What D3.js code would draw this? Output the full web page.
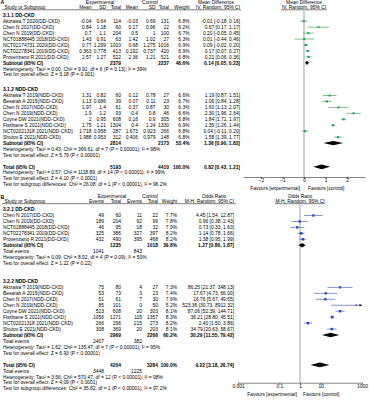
<!DOCTYPE html>
<html><head><meta charset="utf-8">
<script src="https://cdn.jsdelivr.net/npm/d3@7"></script>
<style>
html,body{margin:0;padding:0;background:#fff;}
svg{display:block;font-family:"Liberation Sans",Arial,sans-serif;}
</style></head>
<body>
<svg id="chart" width="369" height="400"></svg>
<script>
// ---------- DATA: panel A (continuous, mean difference) ----------
const a1Name = "3.1.1 DD-CKD";
const a1Studies = ["Akizawa T 2020(DD-CKD)","Chen N 2017(DD-CKD)","Chen N 2019(DD-CKD)","NCT01888445 2018(DD-CKD)","NCT02174731 2020(DD-CKD)","NCT02278341 2019(DD-CKD)","Provenzano R 2021(DD-CKD)"];
// meanE, sdE, nE, meanC, sdC, nC, weight, md, lo, hi
const a1Values = [
  [-0.04,0.64,114,-0.03,0.69,131,6.8,-0.01,-0.18,0.16],
  [0.84,1.18,60,0.17,0.96,22,6.2,0.67,0.17,1.17],
  [0.7,1.1,204,0.5,1,100,6.7,0.20,-0.05,0.45],
  [1.43,0.91,63,1.42,1.02,27,6.3,0.01,-0.44,0.46],
  [0.77,1.299,1003,0.68,1.275,1016,6.9,0.09,-0.02,0.20],
  [0.363,0.778,413,0.192,0.737,420,6.9,0.17,0.07,0.27],
  [2.57,1.27,522,2.36,1.21,521,6.8,0.21,0.06,0.36]
];
const a1Subtotal = [2379,2237,46.6,0.14,0.05,0.23];
const a1Het = "Heterogeneity: Tau² = 0.00; Chi² = 9.91, df = 6 (P = 0.13); I² = 39%";
const a1Test = "Test for overall effect: Z = 3.18 (P = 0.001)";

const a2Name = "3.1.2 NDD-CKD";
const a2Studies = ["Akizawa T 2019(NDD-CKD)","Besarab A 2015(NDD-CKD)","Chen N 2017(NDD-CKD)","Chen N 2019(NDD-CKD)","Coyne DW 2021(NDD-CKD)","Fishbane S 2021(NDD-CKD)","NCT02021318 2021(NDD-CKD)","Shutov E 2021(NDD-CKD)"];
const a2Values = [
  [1.31,0.82,60,0.12,0.78,27,6.6,1.19,0.87,1.51],
  [1.13,0.686,39,0.07,0.11,23,6.7,1.06,0.84,1.28],
  [1.97,1.4,61,0.37,0.87,30,6.3,1.60,1.13,2.07],
  [1.9,1.2,93,-0.4,0.8,46,6.6,2.30,1.96,2.64],
  [2,0.95,608,0.16,0.9,305,6.8,1.84,1.71,1.97],
  [1.75,1.21,1304,0.4,1.24,1330,6.9,1.35,1.26,1.44],
  [1.718,0.958,287,1.673,0.923,266,6.8,0.04,-0.11,0.20],
  [1.988,0.953,312,0.406,0.979,148,6.8,1.58,1.39,1.77]
];
const a2Subtotal = [2814,2173,53.4,1.36,0.90,1.82];
const a2Het = "Heterogeneity: Tau² = 0.43; Chi² = 366.61, df = 7 (P < 0.00001); I² = 98%";
const a2Test = "Test for overall effect: Z = 5.79 (P < 0.00001)";

const aTotal = [5193,4410,100.0,0.82,0.43,1.21];
const aTotalHet = "Heterogeneity: Tau² = 0.57; Chi² = 1118.89, df = 14 (P < 0.00001); I² = 99%";
const aTotalTest = "Test for overall effect: Z = 4.10 (P < 0.0001)";
const aSubgroupTest = "Test for subgroup differences: Chi² = 26.08, df = 1 (P < 0.00001), I² = 96.2%";
const aTicks = [-2,-1,0,1,2];

// ---------- DATA: panel B (dichotomous, odds ratio) ----------
const b1Name = "3.2.1 DD-CKD";
const b1Studies = ["Chen N 2017(DD-CKD)","Chen N 2019(DD-CKD)","NCT01888445 2018(DD-CKD)","NCT02278341 2019(DD-CKD)","Provenzano R 2021(DD-CKD)"];
// eventsE, totalE, eventsC, totalC, weight, or, lo, hi
const b1Values = [
  [49,60,11,22,7.7,4.45,1.54,12.87],
  [189,204,92,99,7.8,0.96,0.38,2.43],
  [46,95,18,32,7.9,0.73,0.33,1.63],
  [325,386,327,397,8.2,1.14,0.78,1.66],
  [432,490,395,468,8.2,1.38,0.95,1.99]
];
const b1Subtotal = [1235,1018,39.8,1.27,0.86,1.87];
const b1Events = [1041,843];
const b1Het = "Heterogeneity: Tau² = 0.09; Chi² = 8.02, df = 4 (P = 0.09); I² = 50%";
const b1Test = "Test for overall effect: Z = 1.22 (P = 0.22)";

const b2Name = "3.2.2 NDD-CKD";
const b2Studies = ["Akizawa T 2019(NDD-CKD)","Besarab A 2015(NDD-CKD)","Chen N 2017(NDD-CKD)","Chen N 2019(NDD-CKD)","Coyne DW 2021(NDD-CKD)","Fishbane S 2021(NDD-CKD)","NCT02021318 2021(NDD-CKD)","Shutov E 2021(NDD-CKD)"];
const b2Values = [
  [75,80,4,27,7.3,86.25,21.37,348.13],
  [53,73,3,23,7.4,17.67,4.73,66.00],
  [51,61,7,30,7.6,16.76,5.67,49.55],
  [85,101,0,50,5.2,523.36,30.73,8912.32],
  [523,608,20,303,8.1,87.06,52.39,144.71],
  [1056,1271,115,1357,8.3,36.21,28.80,45.51],
  [266,296,215,273,8.2,2.40,1.50,3.86],
  [308,369,20,203,8.1,34.79,20.63,58.67]
];
const b2Subtotal = [2969,2266,60.2,30.29,11.55,79.42];
const b2Events = [2407,382];
const b2Het = "Heterogeneity: Tau² = 1.62; Chi² = 135.47, df = 7 (P < 0.00001); I² = 95%";
const b2Test = "Test for overall effect: Z = 6.93 (P < 0.00001)";

const bTotal = [4204,3284,100.0,9.22,3.18,26.74];
const bTotalEvents = [3448,1225];
const bTotalHet = "Heterogeneity: Tau² = 3.56; Chi² = 570.47, df = 12 (P < 0.00001); I² = 98%";
const bTotalTest = "Test for overall effect: Z = 4.09 (P < 0.0001)";
const bSubgroupTest = "Test for subgroup differences: Chi² = 35.82, df = 1 (P < 0.00001), I² = 97.2%";
const bTicks = [0.001,0.1,1,10,1000];

// ---------- DRAWING ----------
const svg = d3.select("#chart");
const FS = 4.9;
const STEP = 5.95;
const greenSq = "#00a651", greenLn = "#3f8f3f";
const blueSq = "#1f3fcf", blueLn = "#3b4f9a";

function txt(x, y, s, opt = {}) {
  return svg.append("text")
    .attr("x", x).attr("y", y).attr("dy", "0.35em")
    .attr("font-size", opt.size || FS)
    .attr("font-weight", opt.bold ? "bold" : null)
    .attr("text-anchor", opt.anchor || "start")
    .attr("fill", "#000")
    .text(s);
}
const pct = v => v.toFixed(1) + "%";
const ci = (e, l, h) => `${e.toFixed(2)} [${l.toFixed(2)}, ${h.toFixed(2)}]`;

function diamond(x, y, e, l, h, half) {
  svg.append("path")
    .attr("d", `M${x(l)},${y} L${x(e)},${y - half} L${x(h)},${y} L${x(e)},${y + half} Z`)
    .attr("fill", "#000");
}
function studyMark(x, y, e, l, h, w, sq, ln) {
  const [d0, d1] = x.domain();
  const lo = Math.max(l, d0), hi = Math.min(h, d1);
  svg.append("line").attr("x1", x(lo)).attr("x2", x(hi)).attr("y1", y).attr("y2", y)
    .attr("stroke", ln).attr("stroke-width", 0.6);
  if (h > d1) {
    const xe = x(d1);
    svg.append("path").attr("d", `M${xe},${y} L${xe - 2.5},${y - 1.2} L${xe - 2.5},${y + 1.2} Z`).attr("fill", "#000");
  }
  const s = w * 0.3;
  svg.append("rect").attr("x", x(e) - s / 2).attr("y", y - s / 2).attr("width", s).attr("height", s).attr("fill", sq);
}

// ===== Panel A =====
const xA = d3.scaleLinear().domain([-2.83, 2.83]).range([243, 365]);
const colA = {mE: 91.5, sE: 106, nE: 121, mC: 138, sC: 155.5, nC: 169, w: 189.5, ci: 240};
svg.append("text").attr("x", 0.5).attr("y", 4.4).attr("font-size", 5.2).attr("font-weight", "bold").text("A");
const h1A = 2.5;
txt(100, h1A, "Experimental", {anchor: "middle"});
txt(150, h1A, "Control", {anchor: "middle"});
txt(216, h1A, "Mean Difference", {anchor: "middle"});
txt(304, h1A, "Mean Difference", {anchor: "middle"});
const hA = 7.4;
txt(4.5, hA, "Study or Subgroup");
txt(colA.mE, hA, "Mean", {anchor: "end"});
txt(colA.sE, hA, "SD", {anchor: "end"});
txt(colA.nE, hA, "Total", {anchor: "end"});
txt(colA.mC, hA, "Mean", {anchor: "end"});
txt(colA.sC, hA, "SD", {anchor: "end"});
txt(colA.nC, hA, "Total", {anchor: "end"});
txt(colA.w, hA, "Weight", {anchor: "end"});
txt(colA.ci, hA, "IV, Random, 95% CI", {anchor: "end"});
txt(304, hA, "IV, Random, 95% CI", {anchor: "middle"});
svg.append("line").attr("x1", 2).attr("x2", 241).attr("y1", 9.8).attr("y2", 9.8).attr("stroke", "#000").attr("stroke-width", 0.5);
svg.append("line").attr("x1", 281).attr("x2", 327).attr("y1", 9.8).attr("y2", 9.8).attr("stroke", "#000").attr("stroke-width", 0.5);

// zero line
svg.append("line").attr("x1", xA(0)).attr("x2", xA(0)).attr("y1", 10.5).attr("y2", 177)
  .attr("stroke", "#8a8a8a").attr("stroke-width", 0.8);

function sectionA(y0, name, studies, vals, sub, het, test) {
  txt(3, y0, name, {bold: true});
  let y = y0 + 6.2;
  studies.forEach((s, i) => {
    const v = vals[i];
    txt(3, y, s);
    txt(colA.mE, y, String(v[0]), {anchor: "end"});
    txt(colA.sE, y, String(v[1]), {anchor: "end"});
    txt(colA.nE, y, String(v[2]), {anchor: "end"});
    txt(colA.mC, y, String(v[3]), {anchor: "end"});
    txt(colA.sC, y, String(v[4]), {anchor: "end"});
    txt(colA.nC, y, String(v[5]), {anchor: "end"});
    txt(colA.w, y, pct(v[6]), {anchor: "end"});
    txt(colA.ci, y, ci(v[7], v[8], v[9]), {anchor: "end"});
    studyMark(xA, y, v[7], v[8], v[9], v[6], greenSq, greenLn);
    y += STEP;
  });
  txt(3, y, "Subtotal (95% CI)", {bold: true});
  txt(colA.nE, y, String(sub[0]), {anchor: "end", bold: true});
  txt(colA.nC, y, String(sub[1]), {anchor: "end", bold: true});
  txt(colA.w, y, pct(sub[2]), {anchor: "end", bold: true});
  txt(colA.ci, y, ci(sub[3], sub[4], sub[5]), {anchor: "end", bold: true});
  diamond(xA, y, sub[3], sub[4], sub[5], 2.2);
  y += STEP; txt(3, y, het);
  y += STEP; txt(3, y, test);
}
sectionA(15, a1Name, a1Studies, a1Values, a1Subtotal, a1Het, a1Test);
sectionA(89.3, a2Name, a2Studies, a2Values, a2Subtotal, a2Het, a2Test);
{
  const y = 166.8;
  txt(3, y, "Total (95% CI)", {bold: true});
  txt(colA.nE, y, String(aTotal[0]), {anchor: "end", bold: true});
  txt(colA.nC, y, String(aTotal[1]), {anchor: "end", bold: true});
  txt(colA.w, y, pct(aTotal[2]), {anchor: "end", bold: true});
  txt(colA.ci, y, ci(aTotal[3], aTotal[4], aTotal[5]), {anchor: "end", bold: true});
  diamond(xA, y, aTotal[3], aTotal[4], aTotal[5], 2.4);
  txt(3, y + STEP, aTotalHet);
  txt(3, y + 2 * STEP, aTotalTest);
  txt(3, y + 3 * STEP, aSubgroupTest);
}
const axA = svg.append("g").attr("transform", "translate(0,177)")
  .call(d3.axisBottom(xA).tickValues(aTicks).tickSize(2).tickSizeOuter(0).tickFormat(d3.format("d")));
axA.selectAll("text").attr("font-size", FS).attr("font-family", "Liberation Sans, Arial, sans-serif").attr("dy", "0.55em").attr("y", 2.5);
axA.selectAll("line,path").attr("stroke", "#333").attr("stroke-width", 0.6);
txt(xA(0) - 4, 188.3, "Favours [experimental]", {anchor: "end"});
txt(xA(0) + 4, 188.3, "Favours [control]");

// ===== Panel B =====
const xB = d3.scaleLog().domain([0.001, 1000]).range([238, 362]);
const colB = {eE: 104, nE: 121, eC: 142, nC: 158, w: 177, ci: 234};
svg.append("text").attr("x", 0.5).attr("y", 198.6).attr("font-size", 5.2).attr("font-weight", "bold").text("B");
const h1B = 196.2;
txt(112, h1B, "Experimental", {anchor: "middle"});
txt(150, h1B, "Control", {anchor: "middle"});
txt(214, h1B, "Odds Ratio", {anchor: "middle"});
txt(300, h1B, "Odds Ratio", {anchor: "middle"});
const hB = 201.4;
txt(4.5, hB, "Study or Subgroup");
txt(colB.eE, hB, "Events", {anchor: "end"});
txt(colB.nE, hB, "Total", {anchor: "end"});
txt(colB.eC, hB, "Events", {anchor: "end"});
txt(colB.nC, hB, "Total", {anchor: "end"});
txt(colB.w, hB, "Weight", {anchor: "end"});
txt(colB.ci, hB, "M-H, Random, 95% CI", {anchor: "end"});
txt(300, hB, "M-H, Random, 95% CI", {anchor: "middle"});
svg.append("line").attr("x1", 2).attr("x2", 236).attr("y1", 203.7).attr("y2", 203.7).attr("stroke", "#000").attr("stroke-width", 0.5);
svg.append("line").attr("x1", 275).attr("x2", 325).attr("y1", 203.7).attr("y2", 203.7).attr("stroke", "#000").attr("stroke-width", 0.5);

svg.append("line").attr("x1", xB(1)).attr("x2", xB(1)).attr("y1", 204.5).attr("y2", 382.7)
  .attr("stroke", "#8a8a8a").attr("stroke-width", 0.8);

function sectionB(y0, name, studies, vals, sub, ev, het, test) {
  txt(3, y0, name, {bold: true});
  let y = y0 + 6.2;
  studies.forEach((s, i) => {
    const v = vals[i];
    txt(3, y, s);
    txt(colB.eE, y, String(v[0]), {anchor: "end"});
    txt(colB.nE, y, String(v[1]), {anchor: "end"});
    txt(colB.eC, y, String(v[2]), {anchor: "end"});
    txt(colB.nC, y, String(v[3]), {anchor: "end"});
    txt(colB.w, y, pct(v[4]), {anchor: "end"});
    txt(colB.ci, y, ci(v[5], v[6], v[7]), {anchor: "end"});
    studyMark(xB, y, v[5], v[6], v[7], v[4], blueSq, blueLn);
    y += STEP;
  });
  txt(3, y, "Subtotal (95% CI)", {bold: true});
  txt(colB.nE, y, String(sub[0]), {anchor: "end", bold: true});
  txt(colB.nC, y, String(sub[1]), {anchor: "end", bold: true});
  txt(colB.w, y, pct(sub[2]), {anchor: "end", bold: true});
  txt(colB.ci, y, ci(sub[3], sub[4], sub[5]), {anchor: "end", bold: true});
  diamond(xB, y, sub[3], sub[4], sub[5], 2.2);
  y += STEP; txt(3, y, "Total events");
  txt(colB.eE, y, String(ev[0]), {anchor: "end"});
  txt(colB.eC, y, String(ev[1]), {anchor: "end"});
  y += STEP; txt(3, y, het);
  y += STEP; txt(3, y, test);
}
sectionB(209.3, b1Name, b1Studies, b1Values, b1Subtotal, b1Events, b1Het, b1Test);
sectionB(281.2, b2Name, b2Studies, b2Values, b2Subtotal, b2Events, b2Het, b2Test);
{
  const y = 364.9;
  txt(3, y, "Total (95% CI)", {bold: true});
  txt(colB.nE, y, String(bTotal[0]), {anchor: "end", bold: true});
  txt(colB.nC, y, String(bTotal[1]), {anchor: "end", bold: true});
  txt(colB.w, y, pct(bTotal[2]), {anchor: "end", bold: true});
  txt(colB.ci, y, ci(bTotal[3], bTotal[4], bTotal[5]), {anchor: "end", bold: true});
  diamond(xB, y, bTotal[3], bTotal[4], bTotal[5], 2.4);
  txt(3, y + STEP, "Total events");
  txt(colB.eE, y + STEP, String(bTotalEvents[0]), {anchor: "end"});
  txt(colB.eC, y + STEP, String(bTotalEvents[1]), {anchor: "end"});
  txt(3, y + 2 * STEP, bTotalHet);
  txt(3, y + 3 * STEP, bTotalTest);
  txt(3, y + 4 * STEP, bSubgroupTest);
}
const axB = svg.append("g").attr("transform", "translate(0,382.7)")
  .call(d3.axisBottom(xB).tickValues(bTicks).tickSize(2).tickSizeOuter(0).tickFormat(d => String(d)));
axB.selectAll("text").attr("font-size", FS).attr("font-family", "Liberation Sans, Arial, sans-serif").attr("dy", "0.55em").attr("y", 2.5);
axB.selectAll("line,path").attr("stroke", "#333").attr("stroke-width", 0.6);
txt(xB(1) - 3, 394, "Favours [experimental]", {anchor: "end"});
txt(xB(1) + 3, 394, "Favours [control]");
</script>
</body></html>
